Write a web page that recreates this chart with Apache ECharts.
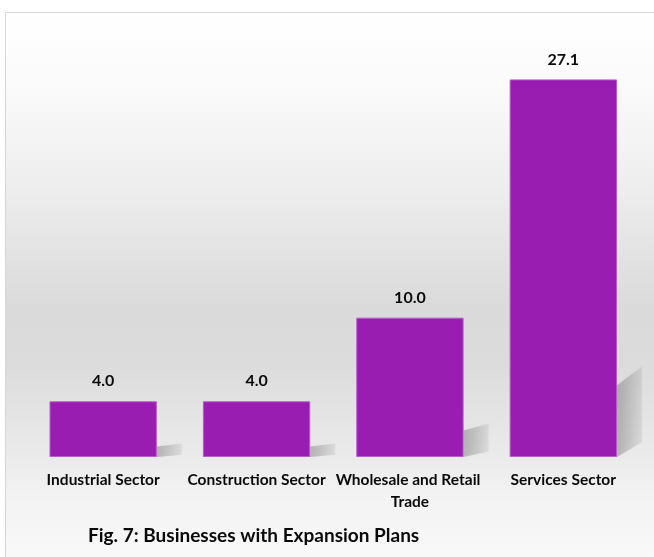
<!DOCTYPE html>
<html>
<head>
<meta charset="utf-8">
<script src="https://cdn.jsdelivr.net/npm/echarts@6/dist/echarts.min.js"></script>
<style>
html,body{margin:0;padding:0;background:#ffffff;}
#chart{width:654px;height:557px;}
</style>
</head>
<body>
<div id="chart"></div>
<script>
var categories = ['Industrial Sector', 'Construction Sector', 'Wholesale and Retail Trade', 'Services Sector'];
var values = [4.0, 4.0, 10.0, 27.1];
var titleText = 'Fig. 7: Businesses with Expansion Plans';

var chart = echarts.init(document.getElementById('chart'));
var FONT = 'Lato';

var option = {
  animation: false,
  graphic: [{
    type: 'rect',
    z: -10,
    silent: true,
    shape: { x: 5.5, y: 12.5, width: 670, height: 570 },
    style: {
      stroke: '#d6d6d6',
      lineWidth: 1,
      fill: {
        type: 'linear', x: 0, y: 0, x2: 0, y2: 1,
        colorStops: [
          { offset: 0, color: '#ffffff' },
          { offset: 0.12, color: '#fbfbfb' },
          { offset: 0.3, color: '#eeeeee' },
          { offset: 0.52, color: '#dadada' },
          { offset: 0.62, color: '#dcdcdc' },
          { offset: 0.78, color: '#ebebeb' },
          { offset: 0.86, color: '#f3f3f3' },
          { offset: 1, color: '#fbfbfb' }
        ]
      }
    }
  }],
  title: {
    text: titleText,
    left: 83,
    top: 521,
    textStyle: { fontFamily: FONT, fontWeight: 'bold', fontSize: 19, color: '#0a0a0a' }
  },
  grid: { left: 26.5, right: 14, top: 39, bottom: 100 },
  xAxis: {
    type: 'category',
    data: categories,
    axisLine: { show: false },
    axisTick: { show: false },
    axisLabel: {
      interval: 0,
      margin: 12,
      width: 152,
      overflow: 'break',
      lineHeight: 22,
      fontFamily: FONT,
      fontWeight: 'bold',
      fontSize: 15.5,
      color: '#0a0a0a'
    }
  },
  yAxis: {
    type: 'value',
    min: 0,
    max: 30,
    show: false,
    splitLine: { show: false }
  },
  series: [
    {
      type: 'custom',
      z: 1,
      silent: true,
      data: values.map(function (v, i) { return [i, v]; }),
      renderItem: function (params, api) {
        var idx = api.value(0);
        var v = api.value(1);
        var base = api.coord([idx, 0]);
        var top = api.coord([idx, v]);
        var bw = api.size([1, 0])[0] * 0.7;
        var xr = base[0] + bw / 2;
        var h = base[1] - top[1];
        var y0 = base[1];
        var w = 25;
        return {
          type: 'polygon',
          shape: {
            points: [
              [xr, y0],
              [xr, y0 - 0.19 * h],
              [xr + w, y0 - 0.24 * h],
              [xr + w, y0 - 0.04 * h]
            ]
          },
          style: {
            fill: {
              type: 'linear', x: 0, y: 0, x2: 1, y2: 0,
              colorStops: [
                { offset: 0, color: 'rgba(0,0,0,0.22)' },
                { offset: 1, color: 'rgba(0,0,0,0.06)' }
              ]
            },
            shadowBlur: 6,
            shadowColor: 'rgba(0,0,0,0.15)'
          }
        };
      }
    },
    {
      type: 'bar',
      z: 2,
      data: values,
      barWidth: '70%',
      itemStyle: {
        color: '#9a1db2',
        borderColor: '#b65ec8',
        borderWidth: 1
      },
      label: {
        show: true,
        position: 'top',
        distance: 12,
        formatter: function (p) { return p.value.toFixed(1); },
        fontFamily: FONT,
        fontWeight: 'bold',
        fontSize: 16,
        color: '#0a0a0a'
      }
    }
  ]
};
chart.setOption(option);
</script>
</body>
</html>
